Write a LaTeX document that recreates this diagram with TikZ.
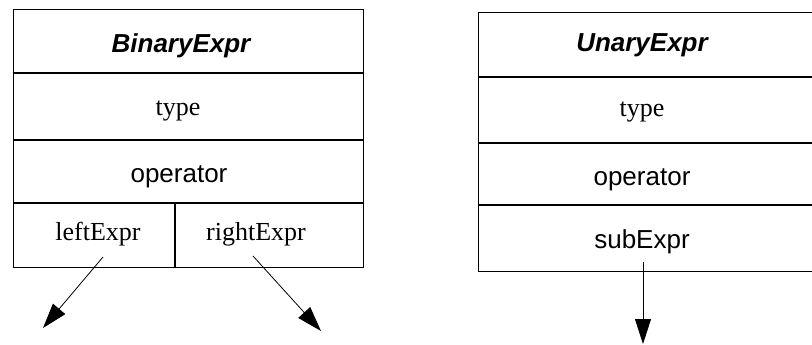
\documentclass[tikz,border=0pt]{standalone}
\usepackage{fontspec}
\setmainfont{Liberation Serif}
\setsansfont{Liberation Sans}
\usetikzlibrary{arrows.meta}
\begin{document}
\begin{tikzpicture}[x=1pt,y=-1pt,
  boxline/.style={line width=1.3pt},
  compbox/.style={draw, line width=1.3pt, inner sep=0pt, anchor=north west},
  seri/.style={font=\fontsize{26}{30}\selectfont\rmfamily, anchor=base, inner sep=0pt},
  sans/.style={font=\fontsize{26}{30}\selectfont\sffamily, anchor=base, inner sep=0pt},
  ttl/.style={font=\fontsize{26}{30}\selectfont\sffamily\bfseries\itshape, anchor=base, inner sep=0pt},
  ptr/.style={line width=0.8pt, -{Triangle[length=25pt,width=16pt]}}]
\useasboundingbox (0,0) rectangle (812,345);
\fill[white] (0,0) rectangle (812,345);
\clip (0,0) rectangle (812,345);
% BinaryExpr box
\node[compbox, minimum width=350pt, minimum height=258pt] (bin) at (13,9) {};
\draw[boxline] (13,73) -- (363,73);
\draw[boxline] (13,140) -- (363,140);
\draw[boxline] (13,203) -- (363,203);
\draw[boxline] (175,203) -- (175,267);
\node[ttl]  (bintitle) at (181,53)  {BinaryExpr};
\node[seri] (bintype)  at (178,115) {type};
\node[sans] (binop)    at (179,182) {operator};
\node[seri] (binleft)  at (98,240)  {leftExpr};
\node[seri] (binright) at (256,240) {rightExpr};
% UnaryExpr box
\node[compbox, minimum width=380pt, minimum height=259pt] (un) at (478,12) {};
\draw[boxline] (478,77) -- (860,77);
\draw[boxline] (478,143) -- (860,143);
\draw[boxline] (478,205) -- (860,205);
\node[ttl]  (untitle) at (642,52)  {UnaryExpr};
\node[seri] (untype)  at (642,117) {type};
\node[sans] (unop)    at (642,185) {operator};
\node[sans] (unsub)   at (642,248) {subExpr};
% pointers
\coordinate (ls) at (103,257);
\coordinate (le) at (43,328);
\coordinate (rs) at (253,256);
\coordinate (re) at (321,331);
\coordinate (us) at (643,262);
\coordinate (ue) at (643,344);
\draw[ptr] (ls) -- (le);
\draw[ptr] (rs) -- (re);
\draw[ptr] (us) -- (ue);
\end{tikzpicture}
\end{document}
